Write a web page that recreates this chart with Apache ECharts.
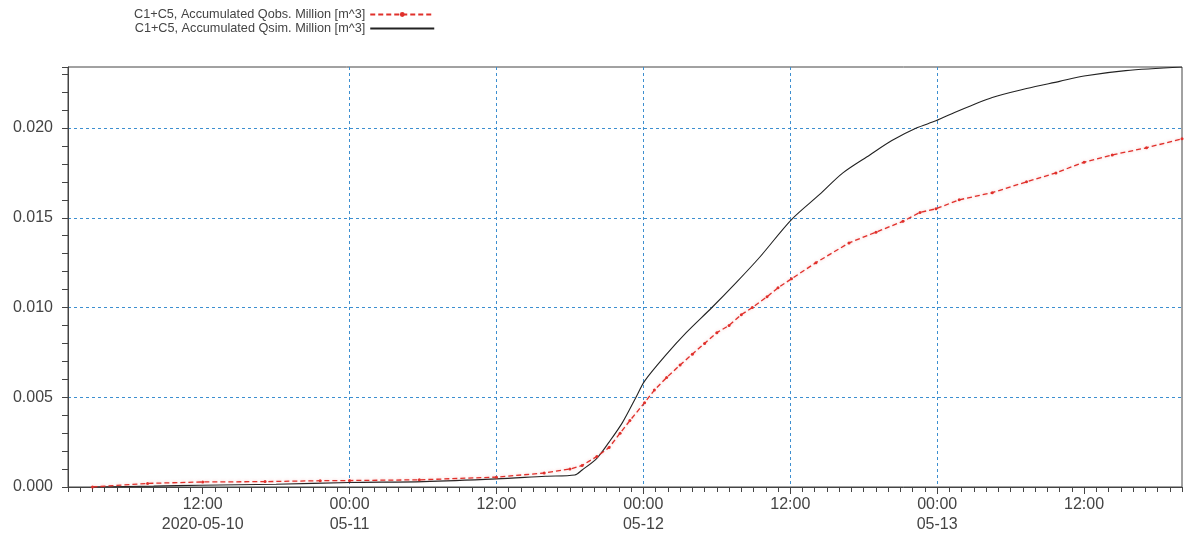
<!DOCTYPE html>
<html>
<head>
<meta charset="utf-8">
<script src="https://cdn.jsdelivr.net/npm/echarts@6/dist/echarts.min.js"></script>
<style>
  html, body { margin: 0; padding: 0; background: #fff; }
  #chart { width: 1187px; height: 539px; }
</style>
</head>
<body>
<div id="chart"></div>
<script>
// hours counted from 2020-05-10 00:00
var simHours = [3, 8, 11.8, 18, 24, 30, 36, 40, 42.4, 43.0, 44.2, 45.2, 46.3, 47.4, 48.1, 49.9, 51.5, 53.6, 55.6, 57.5,
  60.1, 62.4, 64.3, 66.5, 68.3, 70.3, 71.9, 73.2, 76.5, 79.3, 82.0, 84.0, 87.4, 92];
var simValues = [0.0, 0.00005, 0.0001, 0.00015, 0.00025, 0.0003, 0.00045, 0.0006, 0.00067, 0.00095, 0.0016, 0.0025, 0.0036, 0.005, 0.0059, 0.0074, 0.0086, 0.0100, 0.0114, 0.0128,
  0.0149, 0.0163, 0.0175, 0.0185, 0.0193, 0.0200, 0.0204, 0.0208, 0.0217, 0.0222, 0.0226, 0.0229, 0.0232, 0.0234];

var obsHours = [3, 7.5, 12, 17.1, 21.6, 24, 29.7, 36, 39.9, 42.0, 43.0, 44.2, 45.2, 46.1, 46.9, 48.1, 48.9, 49.9, 51.0, 52.0,
  53.0, 54.0, 55.0, 56.0, 56.9, 58.1, 59.0, 60.1, 62.1, 64.8, 67.0, 69.2, 70.6, 71.9, 73.8, 76.5, 79.3, 81.7, 84.0, 86.3, 89.1, 92];
var obsValues = [0.0, 0.0002, 0.00028, 0.0003, 0.00035, 0.00036, 0.0004, 0.00055, 0.00078, 0.001, 0.0012, 0.0017, 0.0022, 0.003, 0.0037, 0.0047, 0.0054, 0.0061, 0.0068, 0.0074,
  0.008, 0.0086, 0.009, 0.0096, 0.0100, 0.0106, 0.0111, 0.0116, 0.0125, 0.0136, 0.0142, 0.0148, 0.0153, 0.0155, 0.0160, 0.0164, 0.0170, 0.0175, 0.0181, 0.0185, 0.0189, 0.0194];

var xTickHours = [12, 24, 36, 48, 60, 72, 84];
var xTickLabels = ['12:00\n2020-05-10', '00:00\n05-11', '12:00', '00:00\n05-12', '12:00', '00:00\n05-13', '12:00'];

var obsName = 'C1+C5, Accumulated Qobs. Million [m^3]';
var simName = 'C1+C5, Accumulated Qsim. Million [m^3]';

function pairs(xs, ys) {
  return xs.map(function (x, i) { return [x, ys[i]]; });
}

var chart = echarts.init(document.getElementById('chart'));
var font = 'Liberation Sans';
var gridLine = { show: true, showMinLine: false, showMaxLine: false,
  lineStyle: { color: '#3d8fd0', type: [3, 3], width: 1 } };

var option = {
  backgroundColor: '#fff',
  animation: false,
  textStyle: { fontFamily: font },
  legend: {
    orient: 'vertical',
    left: 129,
    top: 3,
    itemGap: 1,
    align: 'right',
    itemWidth: 64,
    itemHeight: 6,
    textStyle: { fontFamily: font, fontSize: 12.7, color: '#444' },
    data: [
      { name: obsName },
      { name: simName, itemStyle: { opacity: 0 } }
    ]
  },
  grid: {
    left: 68, right: 5, top: 67, bottom: 52,
    show: true, borderColor: '#444', borderWidth: 1, backgroundColor: '#fff'
  },
  xAxis: [{
    type: 'value',
    min: 1, max: 92,
    axisLine: { lineStyle: { color: '#444' } },
    axisTick: { customValues: xTickHours, length: 7, lineStyle: { color: '#444' } },
    axisLabel: {
      customValues: xTickHours,
      color: '#444', fontSize: 16, fontFamily: font, lineHeight: 20, margin: 8,
      formatter: function (v) {
        var i = xTickHours.indexOf(Math.round(v));
        return i < 0 ? '' : xTickLabels[i];
      }
    },
    splitLine: gridLine
  }, {
    type: 'value',
    position: 'bottom',
    min: 1, max: 92, interval: 1,
    axisLine: { show: false },
    axisTick: { length: 5, lineStyle: { color: '#444' } },
    axisLabel: { show: false },
    splitLine: { show: false }
  }],
  yAxis: {
    type: 'value',
    min: 0, max: 0.0234, interval: 0.005,
    axisLine: { show: true, lineStyle: { color: '#444' } },
    axisTick: { show: true, length: 6, lineStyle: { color: '#444' } },
    minorTick: { show: true, splitNumber: 5, length: 6, lineStyle: { color: '#444' } },
    axisLabel: {
      color: '#444', fontSize: 16, fontFamily: font, margin: 15, showMaxLabel: false,
      formatter: function (v) { return v.toFixed(3); }
    },
    splitLine: gridLine
  },
  series: [{
    name: obsName,
    type: 'line',
    xAxisIndex: 0,
    data: pairs(obsHours, obsValues),
    symbol: 'circle',
    symbolSize: 3,
    itemStyle: { color: '#e0302b' },
    lineStyle: { color: '#e0302b', width: 1.3, type: [5, 3],
      shadowColor: 'rgba(240,120,120,0.5)', shadowBlur: 3 },
    z: 3
  }, {
    name: simName,
    type: 'line',
    xAxisIndex: 0,
    data: pairs(simHours, simValues),
    symbol: 'none',
    smooth: 0.3,
    itemStyle: { color: '#222' },
    lineStyle: { color: '#222', width: 1.1 },
    z: 2
  }]
};
chart.setOption(option);
</script>
</body>
</html>
